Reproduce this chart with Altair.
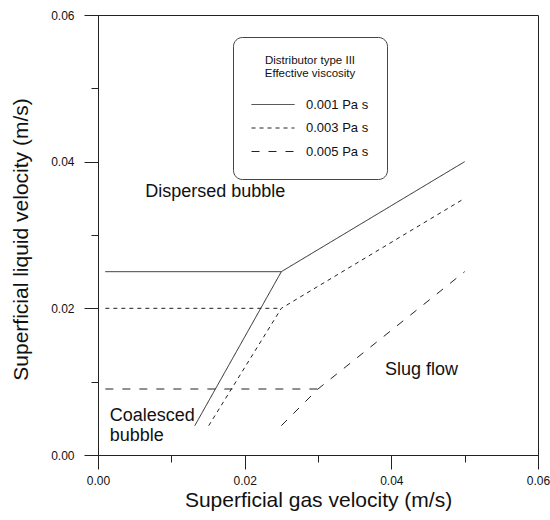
import altair as alt
import pandas as pd

# ---- data ----
viscosity = ["0.001 Pa s", "0.003 Pa s", "0.005 Pa s"]
start_x = [0.001, 0.001, 0.001]      # left end of horizontal boundary
knee_x = [0.025, 0.025, 0.030]       # knee point
knee_y = [0.025, 0.020, 0.009]
low_x = [0.0132, 0.0151, 0.025]      # lower end of the steep branch
low_y = [0.004, 0.004, 0.004]
end_x = [0.050, 0.050, 0.050]        # right end of upper branch
end_y = [0.040, 0.035, 0.025]

ann_center_text = ["Dispersed bubble", "Slug flow"]
ann_center_x = [0.0160, 0.0441]
ann_center_y = [0.0359, 0.0116]
ann_left_text = ["Coalesced", "bubble"]
ann_left_x = [0.0016, 0.0016]
ann_left_y = [0.0053, 0.0026]

tick_vals = [0.0, 0.01, 0.02, 0.03, 0.04, 0.05, 0.06]

rows = []
for i, v in enumerate(viscosity):
    rows.append(dict(v=v, seg=f"{i}h", idx=0, x=start_x[i], y=knee_y[i]))
    rows.append(dict(v=v, seg=f"{i}h", idx=1, x=knee_x[i], y=knee_y[i]))
    rows.append(dict(v=v, seg=f"{i}b", idx=0, x=low_x[i], y=low_y[i]))
    rows.append(dict(v=v, seg=f"{i}b", idx=1, x=knee_x[i], y=knee_y[i]))
    rows.append(dict(v=v, seg=f"{i}b", idx=2, x=end_x[i], y=end_y[i]))
df = pd.DataFrame(rows)

FONT = "Liberation Sans"
label_expr = "round(datum.value*100) % 2 == 0 ? format(datum.value, '.2f') : ''"
minor_test = "round(datum.value*100) % 2 == 1"

xscale = alt.Scale(domain=[0, 0.06], nice=False, zero=False)
yscale = alt.Scale(domain=[0, 0.06], nice=False, zero=False)

xaxis = alt.Axis(
    values=tick_vals, labelExpr=label_expr,
    tickSize={"condition": {"test": minor_test, "value": 7}, "value": 14},
    labelPadding=6, labelFontSize=12, labelFont=FONT, labelColor="#111",
    labelFlush=False, labelOverlap=False,
    title="Superficial gas velocity (m/s)", titleFontSize=21, titleFont=FONT,
    titleFontWeight="normal", titleColor="#111", titleY=51, titleBaseline="alphabetic",
    grid=False, domainColor="#222", tickColor="#222",
)
yaxis = alt.Axis(
    values=tick_vals, labelExpr=label_expr,
    tickSize={"condition": {"test": minor_test, "value": 7}, "value": 14},
    labelPadding=10, labelFontSize=12, labelFont=FONT, labelColor="#111",
    labelFlush=False, labelOverlap=False,
    title="Superficial liquid velocity (m/s)", titleFontSize=21, titleFont=FONT,
    titleFontWeight="normal", titleColor="#111", titleX=-71, titleY=224,
    titleAngle=270, titleAlign="center", titleBaseline="alphabetic",
    grid=False, domainColor="#222", tickColor="#222",
)

lines = alt.Chart(df).mark_line(color="#222", strokeWidth=1).encode(
    x=alt.X("x:Q", scale=xscale, axis=xaxis),
    y=alt.Y("y:Q", scale=yscale, axis=yaxis),
    strokeDash=alt.StrokeDash(
        "v:N",
        scale=alt.Scale(domain=viscosity, range=[[1, 0], [4, 4], [8, 9]]),
        legend=alt.Legend(
            orient="none", legendX=135, legendY=22,
            title=["Distributor type III", "Effective viscosity"],
            titleFontSize=11.5, titleFont=FONT, titleFontWeight="normal",
            titleAnchor="middle", titleAlign="center", titleLineHeight=13,
            titlePadding=16, titleLimit=300, titleColor="#111",
            symbolType="stroke", symbolSize=1849, symbolStrokeWidth=1,
            symbolStrokeColor="#222", clipHeight=18, rowPadding=5.5,
            labelOffset=11, labelFontSize=13, labelFont=FONT, labelLimit=200,
            labelColor="#111",
            strokeColor="#444", cornerRadius=9, padding=18, fillColor="white",
        ),
    ),
    detail="seg:N",
    order="idx:Q",
)

cdf = pd.DataFrame(dict(t=ann_center_text, x=ann_center_x, y=ann_center_y))
ldf = pd.DataFrame(dict(t=ann_left_text, x=ann_left_x, y=ann_left_y))

ctext = alt.Chart(cdf).mark_text(
    fontSize=18, font=FONT, align="center", baseline="middle", color="#111"
).encode(x=alt.X("x:Q", scale=xscale), y=alt.Y("y:Q", scale=yscale), text="t:N")
ltext = alt.Chart(ldf).mark_text(
    fontSize=18, font=FONT, align="left", baseline="middle", color="#111"
).encode(x=alt.X("x:Q", scale=xscale), y=alt.Y("y:Q", scale=yscale), text="t:N")

chart = alt.layer(lines, ctext, ltext).properties(
    width=440, height=440,
    autosize=alt.AutoSizeParams(type="none"),
    padding={"left": 98, "top": 15, "right": 12, "bottom": 65},
    background="white",
).configure_view(stroke="#222", strokeWidth=1)

chart.save("out.html", embed_options={"renderer": "svg", "actions": False})
